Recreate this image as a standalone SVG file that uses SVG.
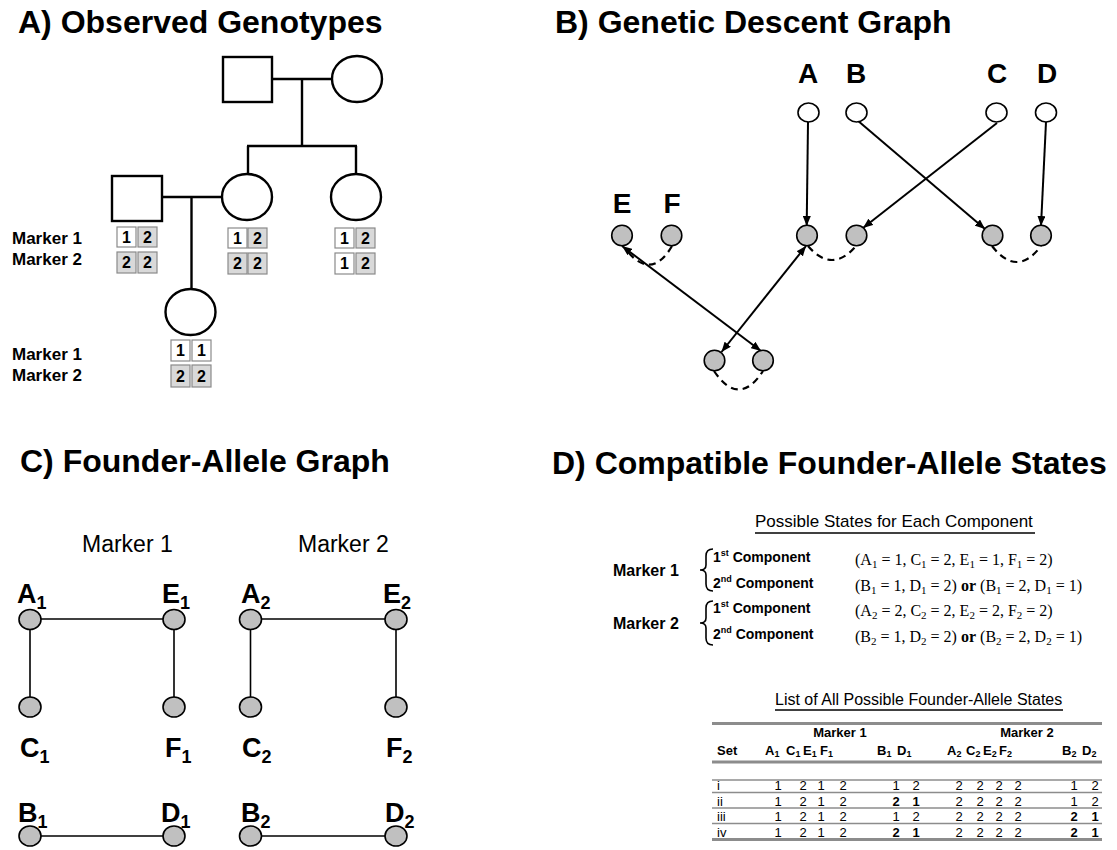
<svg xmlns="http://www.w3.org/2000/svg" width="1117" height="850" viewBox="0 0 1117 850">
<style>
text{font-family:"Liberation Sans",Arial,sans-serif;fill:#000}
.title{font-size:32px;font-weight:bold}
.ped{fill:#fff;stroke:#000;stroke-width:2.4}
.pl{stroke:#000;stroke-width:2.4;fill:none}
.mk{font-size:17px;font-weight:bold}
.bw{fill:#fff;stroke:#8a8a8a;stroke-width:1.2}
.bg{fill:#d9d9d9;stroke:#8a8a8a;stroke-width:1.2}
.bt{font-size:16px;font-weight:bold;text-anchor:middle}
.wn{fill:#fff;stroke:#000;stroke-width:1.6}
.gn{fill:#c0c0c0;stroke:#000;stroke-width:1.6}
.big{font-size:28px;font-weight:bold;text-anchor:middle}
.arr{stroke:#000;stroke-width:2;fill:none}
.dash{stroke:#000;stroke-width:2.2;fill:none;stroke-dasharray:7 5}
.cl{stroke:#000;stroke-width:1.6;fill:none}
.cn{fill:#c0c0c0;stroke:#000;stroke-width:1.6}
.clab{font-size:27px;font-weight:bold}
.csub{font-size:18px}
.chd{font-size:23px}
.dm{font-size:16px;font-weight:bold}
.comp{font-size:14px;font-weight:bold}
.sup{font-size:9px}
.tm{font-family:"Liberation Serif","Times New Roman",serif;font-size:16px}
.tsub{font-size:11px}
.ul{stroke:#000;stroke-width:1.4}
.th{font-size:13px;font-weight:bold}
.tsb{font-size:9px}
.tv{font-size:13px;text-anchor:middle}
.tvb{font-size:13px;text-anchor:middle;font-weight:bold}
.tl{stroke:#8c8c8c;stroke-width:1.3}
.tlt{stroke:#8c8c8c;stroke-width:3}
</style>
<defs>
<marker id="ah" viewBox="0 0 10 8" refX="10" refY="4" markerWidth="10" markerHeight="8" markerUnits="userSpaceOnUse" orient="auto-start-reverse">
<path d="M0,0 L10,4 L0,8 Z" fill="#000"/>
</marker>
</defs>

<!-- Titles -->
<g id="titles">
<text class="title" x="18" y="33">A) Observed Genotypes</text>
<text class="title" x="555" y="33">B) Genetic Descent Graph</text>
<text class="title" x="20" y="472">C) Founder-Allele Graph</text>
<text class="title" x="552" y="474">D) Compatible Founder-Allele States</text>
</g>

<!-- Panel A -->
<g id="panelA-lines">
<line class="pl" x1="272" y1="79" x2="332" y2="79"/>
<line class="pl" x1="302" y1="79" x2="302" y2="146"/>
<line class="pl" x1="247" y1="146" x2="357" y2="146"/>
<line class="pl" x1="248" y1="146" x2="248" y2="174"/>
<line class="pl" x1="356" y1="146" x2="356" y2="174"/>
<line class="pl" x1="162" y1="197" x2="222" y2="197"/>
<line class="pl" x1="191.5" y1="197" x2="191.5" y2="289"/>
</g>
<g id="gp-father"><rect class="ped" x="223" y="57" width="49" height="45"/></g>
<g id="gp-mother"><ellipse class="ped" cx="357" cy="79" rx="25" ry="23"/></g>
<g id="father">
<rect class="ped" x="112" y="176" width="50" height="45"/>
<rect class="bw" x="117" y="227" width="19" height="20"/><text class="bt" x="126.5" y="243">1</text>
<rect class="bg" x="138" y="227" width="19" height="20"/><text class="bt" x="147.5" y="243">2</text>
<rect class="bg" x="117" y="252" width="19" height="21"/><text class="bt" x="126.5" y="268">2</text>
<rect class="bg" x="138" y="252" width="19" height="21"/><text class="bt" x="147.5" y="268">2</text>
</g>
<g id="mother">
<ellipse class="ped" cx="247" cy="197" rx="25" ry="23"/>
<rect class="bw" x="228" y="228" width="19" height="20"/><text class="bt" x="237.5" y="244">1</text>
<rect class="bg" x="248" y="228" width="19" height="20"/><text class="bt" x="257.5" y="244">2</text>
<rect class="bg" x="228" y="253" width="19" height="21"/><text class="bt" x="237.5" y="269">2</text>
<rect class="bg" x="248" y="253" width="19" height="21"/><text class="bt" x="257.5" y="269">2</text>
</g>
<g id="aunt">
<ellipse class="ped" cx="356" cy="197" rx="25" ry="23"/>
<rect class="bw" x="335" y="228" width="19" height="20"/><text class="bt" x="344.5" y="244">1</text>
<rect class="bg" x="356" y="228" width="19" height="20"/><text class="bt" x="365.5" y="244">2</text>
<rect class="bw" x="335" y="253" width="19" height="21"/><text class="bt" x="344.5" y="269">1</text>
<rect class="bg" x="356" y="253" width="19" height="21"/><text class="bt" x="365.5" y="269">2</text>
</g>
<g id="child">
<ellipse class="ped" cx="190.5" cy="312" rx="25" ry="23"/>
<rect class="bw" x="171" y="340" width="19" height="21"/><text class="bt" x="180.5" y="356">1</text>
<rect class="bw" x="192" y="340" width="19" height="21"/><text class="bt" x="201.5" y="356">1</text>
<rect class="bg" x="171" y="365" width="19" height="22"/><text class="bt" x="180.5" y="382">2</text>
<rect class="bg" x="192" y="365" width="19" height="22"/><text class="bt" x="201.5" y="382">2</text>
</g>
<g id="panelA-labels">
<text class="mk" x="12" y="244">Marker 1</text>
<text class="mk" x="12" y="265">Marker 2</text>
<text class="mk" x="12" y="360">Marker 1</text>
<text class="mk" x="12" y="381">Marker 2</text>
</g>

<!-- Panel B -->
<g id="panelB-connectors">
<line class="arr" x1="808" y1="122" x2="806.7" y2="226" marker-end="url(#ah)"/>
<line class="arr" x1="1046" y1="122" x2="1041" y2="226" marker-end="url(#ah)"/>
<line class="arr" x1="857" y1="120" x2="985" y2="229" marker-end="url(#ah)"/>
<line class="arr" x1="997" y1="123" x2="863" y2="228" marker-end="url(#ah)"/>
<line class="arr" x1="806" y1="246" x2="721.5" y2="352" marker-start="url(#ah)" marker-end="url(#ah)"/>
<line class="arr" x1="622" y1="246" x2="761" y2="351" marker-start="url(#ah)" marker-end="url(#ah)"/>
<path class="dash" d="M672,246 Q652,280 628,252"/>
<path class="dash" d="M808,246 Q832,274 856,246"/>
<path class="dash" d="M992,246 Q1017,278 1041,246"/>
<path class="dash" d="M714,371 Q739,408 763,371"/>
</g>
<g id="nodeA"><text class="big" x="808" y="83">A</text><ellipse class="wn" cx="808.5" cy="112.5" rx="10.5" ry="9.5"/></g>
<g id="nodeB"><text class="big" x="856" y="83">B</text><ellipse class="wn" cx="856.5" cy="112.5" rx="10.5" ry="9.5"/></g>
<g id="nodeC"><text class="big" x="997" y="83">C</text><ellipse class="wn" cx="996.5" cy="112.5" rx="10.5" ry="9.5"/></g>
<g id="nodeD"><text class="big" x="1047" y="83">D</text><ellipse class="wn" cx="1046" cy="112.5" rx="10.5" ry="9.5"/></g>
<g id="nodeE"><text class="big" x="622" y="213">E</text><circle class="gn" cx="622" cy="235.5" r="10.3"/></g>
<g id="nodeF"><text class="big" x="672" y="213">F</text><circle class="gn" cx="671.5" cy="235.5" r="10.3"/></g>
<g id="mother-pat"><circle class="gn" cx="807" cy="235.5" r="10.3"/></g>
<g id="mother-mat"><circle class="gn" cx="856.5" cy="235.5" r="10.3"/></g>
<g id="aunt-pat"><circle class="gn" cx="992.5" cy="235.5" r="10.3"/></g>
<g id="aunt-mat"><circle class="gn" cx="1041" cy="235.5" r="10.3"/></g>
<g id="child-pat"><circle class="gn" cx="714.5" cy="360.5" r="10.3"/></g>
<g id="child-mat"><circle class="gn" cx="763" cy="360.5" r="10.3"/></g>

<!-- Panel C -->
<g id="panelC-connectors">
<line class="cl" x1="30" y1="619" x2="174" y2="619"/>
<line class="cl" x1="30" y1="619" x2="30" y2="707"/>
<line class="cl" x1="174" y1="619" x2="174" y2="707"/>
<line class="cl" x1="30" y1="836" x2="174" y2="836"/>
<line class="cl" x1="250.5" y1="619" x2="396" y2="619"/>
<line class="cl" x1="250.5" y1="619" x2="250.5" y2="707"/>
<line class="cl" x1="396" y1="619" x2="396" y2="707"/>
<line class="cl" x1="250.5" y1="836" x2="396" y2="836"/>
</g>
<g id="panelC-headers">
<text class="chd" x="82" y="552">Marker 1</text>
<text class="chd" x="298" y="552">Marker 2</text>
</g>
<g id="A1"><ellipse class="cn" cx="30" cy="619.5" rx="11" ry="10"/><text class="clab" x="17" y="603">A<tspan class="csub" dy="6">1</tspan></text></g>
<g id="E1"><ellipse class="cn" cx="174" cy="619.5" rx="11" ry="10"/><text class="clab" x="162" y="603">E<tspan class="csub" dy="6">1</tspan></text></g>
<g id="C1"><ellipse class="cn" cx="30" cy="707" rx="11" ry="10"/><text class="clab" x="20" y="757">C<tspan class="csub" dy="6">1</tspan></text></g>
<g id="F1"><ellipse class="cn" cx="174" cy="707" rx="11" ry="10"/><text class="clab" x="165" y="757">F<tspan class="csub" dy="6">1</tspan></text></g>
<g id="B1"><ellipse class="cn" cx="30" cy="836" rx="11" ry="10"/><text class="clab" x="18" y="822">B<tspan class="csub" dy="6">1</tspan></text></g>
<g id="D1"><ellipse class="cn" cx="174" cy="836" rx="11" ry="10"/><text class="clab" x="161" y="822">D<tspan class="csub" dy="6">1</tspan></text></g>
<g id="A2"><ellipse class="cn" cx="250.5" cy="619.5" rx="11" ry="10"/><text class="clab" x="241" y="603">A<tspan class="csub" dy="6">2</tspan></text></g>
<g id="E2"><ellipse class="cn" cx="396" cy="619.5" rx="11" ry="10"/><text class="clab" x="383" y="603">E<tspan class="csub" dy="6">2</tspan></text></g>
<g id="C2"><ellipse class="cn" cx="250.5" cy="707" rx="11" ry="10"/><text class="clab" x="242" y="757">C<tspan class="csub" dy="6">2</tspan></text></g>
<g id="F2"><ellipse class="cn" cx="396" cy="707" rx="11" ry="10"/><text class="clab" x="386" y="757">F<tspan class="csub" dy="6">2</tspan></text></g>
<g id="B2"><ellipse class="cn" cx="250.5" cy="836" rx="11" ry="10"/><text class="clab" x="241" y="822">B<tspan class="csub" dy="6">2</tspan></text></g>
<g id="D2"><ellipse class="cn" cx="396" cy="836" rx="11" ry="10"/><text class="clab" x="385" y="822">D<tspan class="csub" dy="6">2</tspan></text></g>

<!-- Panel D -->
<g id="states">
<text x="755" y="527" font-size="17">Possible States for Each Component</text>
<line class="ul" x1="755" y1="533" x2="1035" y2="533"/>
<text class="dm" x="613" y="576">Marker 1</text>
<text class="dm" x="613" y="629">Marker 2</text>
<path class="cl" d="M713,549 Q706,549 706,556 L706,565 Q706,570 700,570 Q706,570 706,575 L706,584 Q706,591 713,591"/>
<path class="cl" d="M713,601 Q706,601 706,608 L706,618 Q706,623 700,623 Q706,623 706,628 L706,638 Q706,645 713,645"/>
<text class="comp" x="713" y="562">1<tspan class="sup" dy="-6">st</tspan><tspan dy="6"> Component</tspan></text>
<text class="comp" x="713" y="588">2<tspan class="sup" dy="-6">nd</tspan><tspan dy="6"> Component</tspan></text>
<text class="comp" x="713" y="613">1<tspan class="sup" dy="-6">st</tspan><tspan dy="6"> Component</tspan></text>
<text class="comp" x="713" y="639">2<tspan class="sup" dy="-6">nd</tspan><tspan dy="6"> Component</tspan></text>
<text class="tm" x="855" y="565">(A<tspan class="tsub" dy="3">1</tspan><tspan dy="-3"> = 1, C</tspan><tspan class="tsub" dy="3">1</tspan><tspan dy="-3"> = 2, E</tspan><tspan class="tsub" dy="3">1</tspan><tspan dy="-3"> = 1, F</tspan><tspan class="tsub" dy="3">1</tspan><tspan dy="-3"> = 2)</tspan></text>
<text class="tm" x="855" y="591">(B<tspan class="tsub" dy="3">1</tspan><tspan dy="-3"> = 1, D</tspan><tspan class="tsub" dy="3">1</tspan><tspan dy="-3"> = 2) </tspan><tspan font-weight="bold">or</tspan><tspan> (B</tspan><tspan class="tsub" dy="3">1</tspan><tspan dy="-3"> = 2, D</tspan><tspan class="tsub" dy="3">1</tspan><tspan dy="-3"> = 1)</tspan></text>
<text class="tm" x="855" y="616">(A<tspan class="tsub" dy="3">2</tspan><tspan dy="-3"> = 2, C</tspan><tspan class="tsub" dy="3">2</tspan><tspan dy="-3"> = 2, E</tspan><tspan class="tsub" dy="3">2</tspan><tspan dy="-3"> = 2, F</tspan><tspan class="tsub" dy="3">2</tspan><tspan dy="-3"> = 2)</tspan></text>
<text class="tm" x="855" y="642">(B<tspan class="tsub" dy="3">2</tspan><tspan dy="-3"> = 1, D</tspan><tspan class="tsub" dy="3">2</tspan><tspan dy="-3"> = 2) </tspan><tspan font-weight="bold">or</tspan><tspan> (B</tspan><tspan class="tsub" dy="3">2</tspan><tspan dy="-3"> = 2, D</tspan><tspan class="tsub" dy="3">2</tspan><tspan dy="-3"> = 1)</tspan></text>
</g>

<g id="table">
<text x="775" y="705" font-size="16">List of All Possible Founder-Allele States</text>
<line class="ul" x1="775" y1="710" x2="1063" y2="710"/>
<line class="tlt" x1="712" y1="723.5" x2="1102" y2="723.5"/>
<text class="th" x="840" y="737" text-anchor="middle">Marker 1</text>
<text class="th" x="1027" y="737" text-anchor="middle">Marker 2</text>
<text class="th" x="717" y="755">Set</text>
<text class="th" x="765" y="755">A<tspan class="tsb" dy="2">1</tspan></text>
<text class="th" x="786" y="755">C<tspan class="tsb" dy="2">1</tspan></text>
<text class="th" x="803" y="755">E<tspan class="tsb" dy="2">1</tspan></text>
<text class="th" x="820" y="755">F<tspan class="tsb" dy="2">1</tspan></text>
<text class="th" x="877" y="755">B<tspan class="tsb" dy="2">1</tspan></text>
<text class="th" x="897" y="755">D<tspan class="tsb" dy="2">1</tspan></text>
<text class="th" x="947" y="755">A<tspan class="tsb" dy="2">2</tspan></text>
<text class="th" x="966" y="755">C<tspan class="tsb" dy="2">2</tspan></text>
<text class="th" x="983" y="755">E<tspan class="tsb" dy="2">2</tspan></text>
<text class="th" x="999" y="755">F<tspan class="tsb" dy="2">2</tspan></text>
<text class="th" x="1062" y="755">B<tspan class="tsb" dy="2">2</tspan></text>
<text class="th" x="1082" y="755">D<tspan class="tsb" dy="2">2</tspan></text>
<line class="tlt" x1="712" y1="762" x2="1102" y2="762"/>
<line class="tl" x1="712" y1="780" x2="1102" y2="780"/>
<line class="tl" x1="712" y1="792.5" x2="1102" y2="792.5"/>
<line class="tl" x1="712" y1="808" x2="1102" y2="808"/>
<line class="tl" x1="712" y1="823.5" x2="1102" y2="823.5"/>
<line class="tlt" x1="712" y1="839.5" x2="1102" y2="839.5" stroke-width="2.4"/>
<text x="717" y="790" font-size="13">i</text>
<text x="717" y="805.5" font-size="13">ii</text>
<text x="717" y="821" font-size="13">iii</text>
<text x="717" y="836.5" font-size="13">iv</text>
<g class="row">
<text class="tv" x="778" y="790">1</text><text class="tv" x="803" y="790">2</text><text class="tv" x="821" y="790">1</text><text class="tv" x="843" y="790">2</text>
<text class="tv" x="896" y="790">1</text><text class="tv" x="916" y="790">2</text>
<text class="tv" x="959" y="790">2</text><text class="tv" x="980" y="790">2</text><text class="tv" x="999" y="790">2</text><text class="tv" x="1018" y="790">2</text>
<text class="tv" x="1074" y="790">1</text><text class="tv" x="1095" y="790">2</text>
</g>
<g class="row">
<text class="tv" x="778" y="805.5">1</text><text class="tv" x="803" y="805.5">2</text><text class="tv" x="821" y="805.5">1</text><text class="tv" x="843" y="805.5">2</text>
<text class="tvb" x="896" y="805.5">2</text><text class="tvb" x="916" y="805.5">1</text>
<text class="tv" x="959" y="805.5">2</text><text class="tv" x="980" y="805.5">2</text><text class="tv" x="999" y="805.5">2</text><text class="tv" x="1018" y="805.5">2</text>
<text class="tv" x="1074" y="805.5">1</text><text class="tv" x="1095" y="805.5">2</text>
</g>
<g class="row">
<text class="tv" x="778" y="821">1</text><text class="tv" x="803" y="821">2</text><text class="tv" x="821" y="821">1</text><text class="tv" x="843" y="821">2</text>
<text class="tv" x="896" y="821">1</text><text class="tv" x="916" y="821">2</text>
<text class="tv" x="959" y="821">2</text><text class="tv" x="980" y="821">2</text><text class="tv" x="999" y="821">2</text><text class="tv" x="1018" y="821">2</text>
<text class="tvb" x="1074" y="821">2</text><text class="tvb" x="1095" y="821">1</text>
</g>
<g class="row">
<text class="tv" x="778" y="836.5">1</text><text class="tv" x="803" y="836.5">2</text><text class="tv" x="821" y="836.5">1</text><text class="tv" x="843" y="836.5">2</text>
<text class="tvb" x="896" y="836.5">2</text><text class="tvb" x="916" y="836.5">1</text>
<text class="tv" x="959" y="836.5">2</text><text class="tv" x="980" y="836.5">2</text><text class="tv" x="999" y="836.5">2</text><text class="tv" x="1018" y="836.5">2</text>
<text class="tvb" x="1074" y="836.5">2</text><text class="tvb" x="1095" y="836.5">1</text>
</g>
</g>
</svg>
